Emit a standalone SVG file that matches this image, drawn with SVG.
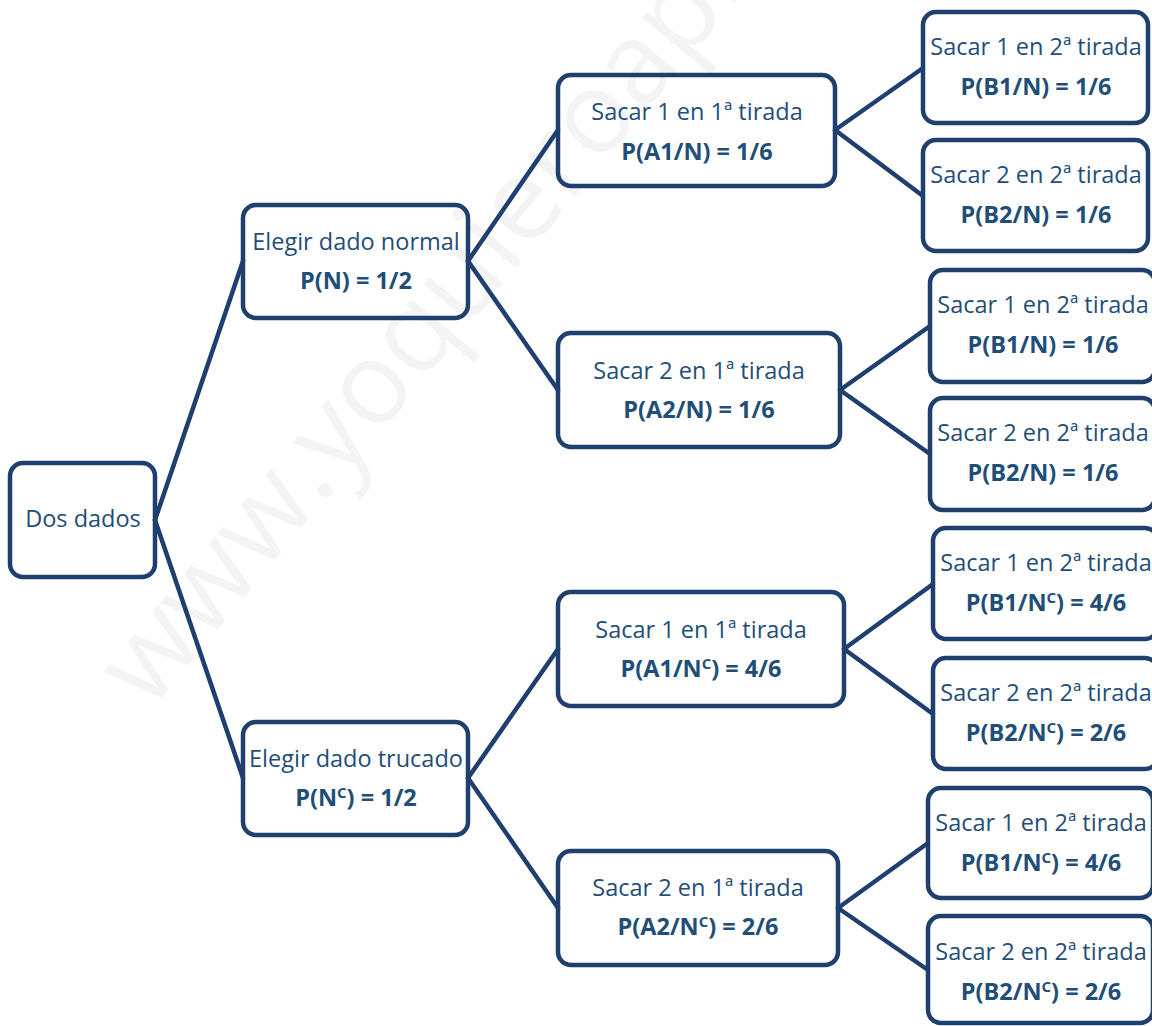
<svg xmlns="http://www.w3.org/2000/svg" width="1152" height="1026" viewBox="0 0 1152 1026">
<style>
.box{fill:none;stroke:#1f3f6e;stroke-width:4.5}
.ln{stroke:#1f3f6e;stroke-width:4.5;fill:none;stroke-linecap:round}
.t{font-family:"Open Sans","Liberation Sans",sans-serif;font-size:23.5px;fill:#1f4e79;text-anchor:middle}
.b{font-weight:bold}
.wm{font-family:"Open Sans","Liberation Sans",sans-serif;font-size:115px;fill:#000;fill-opacity:0.045}
</style>
<rect width="1152" height="1026" fill="#ffffff"/>
<text class="wm" transform="translate(150,712) rotate(-50.5)">www.yoquieroaprobar.es</text>
<g id="connectors">
<line class="ln" x1="155" y1="520" x2="243" y2="261"/>
<line class="ln" x1="155" y1="520" x2="243" y2="778"/>
<line class="ln" x1="468" y1="261" x2="558" y2="130"/>
<line class="ln" x1="468" y1="261" x2="558" y2="390"/>
<line class="ln" x1="468" y1="778" x2="558" y2="649"/>
<line class="ln" x1="468" y1="778" x2="558" y2="908"/>
<line class="ln" x1="835" y1="130" x2="923" y2="68"/>
<line class="ln" x1="835" y1="130" x2="923" y2="196"/>
<line class="ln" x1="840" y1="390" x2="930" y2="326"/>
<line class="ln" x1="840" y1="390" x2="930" y2="454"/>
<line class="ln" x1="844" y1="649" x2="933" y2="584"/>
<line class="ln" x1="844" y1="649" x2="933" y2="714"/>
<line class="ln" x1="838" y1="908" x2="928" y2="843"/>
<line class="ln" x1="838" y1="908" x2="928" y2="970"/>
</g>
<g id="root"><rect class="box" x="10" y="463" width="145" height="114" rx="13"/><text class="t" x="83" y="527">Dos dados</text></g>
<g id="n"><rect class="box" x="243" y="205" width="225" height="113" rx="13"/><text class="t" x="356" y="250">Elegir dado normal</text><text class="t b" x="356" y="289">P(N) = 1/2</text></g>
<g id="nc"><rect class="box" x="243" y="722" width="225" height="113" rx="13"/><text class="t" x="356" y="767">Elegir dado trucado</text><text class="t b" x="356" y="806">P(N<tspan font-size="15" dy="-8">C</tspan><tspan dy="8">) = 1/2</tspan></text></g>
<g id="a1n"><rect class="box" x="558" y="75" width="277" height="111" rx="13"/><text class="t" x="697" y="120">Sacar 1 en 1ª tirada</text><text class="t b" x="697" y="160">P(A1/N) = 1/6</text></g>
<g id="a2n"><rect class="box" x="558" y="333" width="282" height="114" rx="13"/><text class="t" x="699" y="379">Sacar 2 en 1ª tirada</text><text class="t b" x="699" y="418">P(A2/N) = 1/6</text></g>
<g id="a1nc"><rect class="box" x="558" y="592" width="286" height="114" rx="13"/><text class="t" x="701" y="638">Sacar 1 en 1ª tirada</text><text class="t b" x="701" y="677">P(A1/N<tspan font-size="15" dy="-8">C</tspan><tspan dy="8">) = 4/6</tspan></text></g>
<g id="a2nc"><rect class="box" x="558" y="851" width="280" height="114" rx="13"/><text class="t" x="698" y="896">Sacar 2 en 1ª tirada</text><text class="t b" x="698" y="935">P(A2/N<tspan font-size="15" dy="-8">C</tspan><tspan dy="8">) = 2/6</tspan></text></g>
<g id="r1"><rect class="box" x="923" y="12" width="225" height="111" rx="13"/><text class="t" x="1036" y="55">Sacar 1 en 2ª tirada</text><text class="t b" x="1036" y="95">P(B1/N) = 1/6</text></g>
<g id="r2"><rect class="box" x="923" y="140" width="225" height="111" rx="13"/><text class="t" x="1036" y="183">Sacar 2 en 2ª tirada</text><text class="t b" x="1036" y="223">P(B2/N) = 1/6</text></g>
<g id="r3"><rect class="box" x="930" y="270" width="225" height="112" rx="13"/><text class="t" x="1043" y="313">Sacar 1 en 2ª tirada</text><text class="t b" x="1043" y="353">P(B1/N) = 1/6</text></g>
<g id="r4"><rect class="box" x="930" y="398" width="225" height="112" rx="13"/><text class="t" x="1043" y="441">Sacar 2 en 2ª tirada</text><text class="t b" x="1043" y="481">P(B2/N) = 1/6</text></g>
<g id="r5"><rect class="box" x="933" y="528" width="225" height="111" rx="13"/><text class="t" x="1046" y="571">Sacar 1 en 2ª tirada</text><text class="t b" x="1046" y="611">P(B1/N<tspan font-size="15" dy="-8">C</tspan><tspan dy="8">) = 4/6</tspan></text></g>
<g id="r6"><rect class="box" x="933" y="658" width="225" height="111" rx="13"/><text class="t" x="1046" y="701">Sacar 2 en 2ª tirada</text><text class="t b" x="1046" y="741">P(B2/N<tspan font-size="15" dy="-8">C</tspan><tspan dy="8">) = 2/6</tspan></text></g>
<g id="r7"><rect class="box" x="928" y="788" width="225" height="110" rx="13"/><text class="t" x="1041" y="831">Sacar 1 en 2ª tirada</text><text class="t b" x="1041" y="871">P(B1/N<tspan font-size="15" dy="-8">C</tspan><tspan dy="8">) = 4/6</tspan></text></g>
<g id="r8"><rect class="box" x="928" y="916" width="225" height="107" rx="13"/><text class="t" x="1041" y="960">Sacar 2 en 2ª tirada</text><text class="t b" x="1041" y="1000">P(B2/N<tspan font-size="15" dy="-8">C</tspan><tspan dy="8">) = 2/6</tspan></text></g>
</svg>
